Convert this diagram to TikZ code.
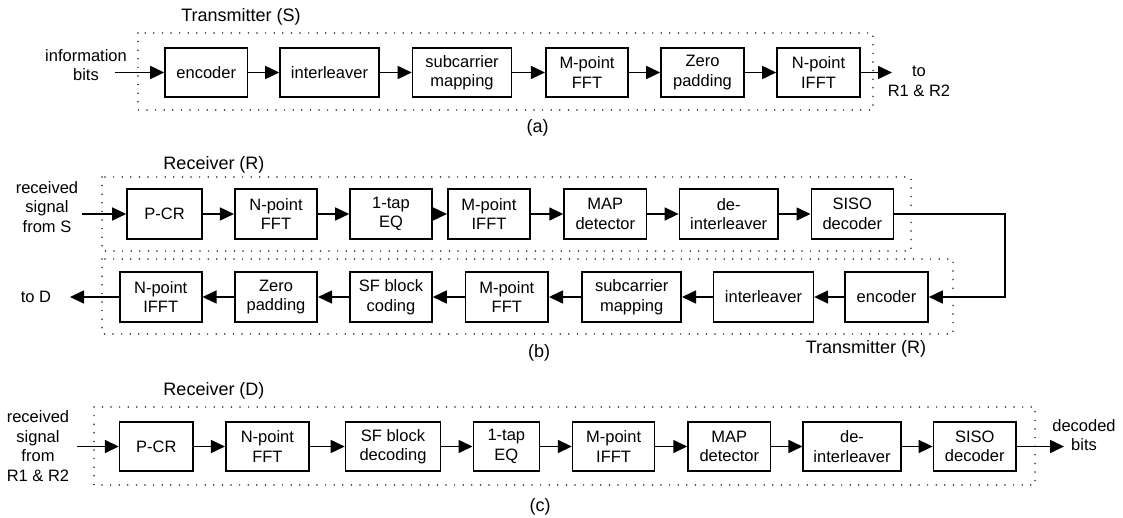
\documentclass[tikz,border=0pt]{standalone}
\usepackage{fontspec}
\setmainfont{Liberation Sans}
\usetikzlibrary{arrows.meta}

\tikzset{
  blk/.style={draw, line width=1.6pt, minimum height=49pt, inner sep=0pt,
    align=center, font=\fontsize{16.5}{19.5}\selectfont},
  txt/.style={inner sep=0pt, align=center, font=\fontsize{16.5}{19.5}\selectfont},
  ttl/.style={inner sep=0pt, font=\fontsize{18}{21}\selectfont},
  frame/.style={line width=1.7pt, dash pattern=on 0pt off 8.6pt, line cap=round, black!85},
  arr/.style={line width=1.6pt, -{Triangle[length=14pt,width=13pt]}},
  ln/.style={line width=1.6pt}
}

\begin{document}
\begin{tikzpicture}[x=1pt, y=-1pt]
\useasboundingbox (0,0) rectangle (1123,518);

% ---------- (a) transmitter at S ----------
\draw[frame] (138,33) rectangle (873,110);
\node[ttl] (tS) at (241,17) {Transmitter (S)};
\node[txt] (infob) at (86,65) {information\\bits};
\coordinate (inA) at (115,72.5);
\node[blk, minimum width=82.5pt] (encS)   at (206.25,72.5) {encoder};
\node[blk, minimum width=99pt]   (intS)   at (329.5,72.5)  {interleaver};
\node[blk, minimum width=99pt]   (scmS)   at (462,72.5)    {subcarrier\\mapping};
\node[blk, minimum width=82.5pt] (mfftS)  at (587,72.5)    {M-point\\FFT};
\node[blk, minimum width=83pt]   (zpS)    at (702.5,72.5)  {Zero\\padding};
\node[blk, minimum width=83pt]   (nifftS) at (818.5,72.5)  {N-point\\IFFT};
\coordinate (outA) at (892,72.5);
\node[txt] (toR) at (919,81.5) {to\\R1 \& R2};
\node[ttl] (capA) at (537.5,128) {(a)};
\draw[arr] (inA) -- (encS);
\draw[arr] (encS) -- (intS);
\draw[arr] (intS) -- (scmS);
\draw[arr] (scmS) -- (mfftS);
\draw[arr] (mfftS) -- (zpS);
\draw[arr] (zpS) -- (nifftS);
\draw[arr] (nifftS) -- (outA);

% ---------- (b) relay: receiver part ----------
\draw[frame] (102,177) rectangle (911,251);
\node[ttl] (rR) at (214,165) {Receiver (R)};
\node[txt] (rxS) at (47,207) {received\\signal\\from S};
\coordinate (inB) at (81.5,214);
\node[blk, minimum width=75pt, minimum height=50pt]   (pcrR)   at (164.5,214) {P-CR};
\node[blk, minimum width=82.5pt, minimum height=50pt] (nfftR)  at (276,214)   {N-point\\FFT};
\node[blk, minimum width=82pt, minimum height=50pt]   (eqR)    at (391,214)   {1-tap\\EQ};
\node[blk, minimum width=82.5pt, minimum height=50pt] (mifftR) at (489,214)   {M-point\\IFFT};
\node[blk, minimum width=82.5pt, minimum height=50pt] (mapR)   at (605.3,214) {MAP\\detector};
\node[blk, minimum width=98.6pt, minimum height=50pt] (deintR) at (728.7,214) {de-\\interleaver};
\node[blk, minimum width=82pt, minimum height=50pt]   (sisoR)  at (852.3,214) {SISO\\decoder};
\draw[arr] (inB) -- (pcrR);
\draw[arr] (pcrR) -- (nfftR);
\draw[arr] (nfftR) -- (eqR);
\draw[arr] (eqR) -- (mifftR);
\draw[arr] (mifftR) -- (mapR);
\draw[arr] (mapR) -- (deintR);
\draw[arr] (deintR) -- (sisoR);

% ---------- (b) relay: transmitter part ----------
\draw[frame] (102,259) rectangle (953,334);
\node[blk, minimum width=82pt, minimum height=50pt]   (nifftT) at (160.7,297) {N-point\\IFFT};
\node[blk, minimum width=82.5pt, minimum height=50pt] (zpT)    at (276,297)   {Zero\\padding};
\node[blk, minimum width=82pt, minimum height=50pt]   (sfT)    at (391,297)   {SF block\\coding};
\node[blk, minimum width=82.8pt, minimum height=50pt] (mfftT)  at (506.8,297) {M-point\\FFT};
\node[blk, minimum width=99pt, minimum height=50pt]   (scmT)   at (631.7,297) {subcarrier\\mapping};
\node[blk, minimum width=99.7pt, minimum height=50pt] (intT)   at (763.5,297) {interleaver};
\node[blk, minimum width=83pt, minimum height=50pt]   (encT)   at (886.5,297) {encoder};
\coordinate (loopTop) at (1005,214);
\coordinate (loopBot) at (1005,297);
\draw[ln, arr] (sisoR.east) -- (loopTop) -- (loopBot) -- (encT.east);
\draw[arr] (encT) -- (intT);
\draw[arr] (intT) -- (scmT);
\draw[arr] (scmT) -- (mfftT);
\draw[arr] (mfftT) -- (sfT);
\draw[arr] (sfT) -- (zpT);
\draw[arr] (zpT) -- (nifftT);
\coordinate (outB) at (70,297);
\draw[arr] (nifftT) -- (outB);
\node[txt] (toD) at (36,297) {to D};
\node[ttl] (tR) at (866,349) {Transmitter (R)};
\node[ttl] (capB) at (539,353) {(b)};

% ---------- (c) receiver at D ----------
\draw[frame] (94,407) rectangle (1035,485);
\node[ttl] (rD) at (214,391) {Receiver (D)};
\node[txt] (rxR) at (38,446) {received\\signal\\from\\R1 \& R2};
\coordinate (inC) at (77,446.5);
\node[blk, minimum width=73.4pt] (pcrD)   at (156.3,446.5) {P-CR};
\node[blk, minimum width=83.3pt] (nfftD)  at (267.4,446.5) {N-point\\FFT};
\node[blk, minimum width=95pt]   (sfD)    at (393,446.5)   {SF block\\decoding};
\node[blk, minimum width=66pt]   (eqD)    at (506.3,446.5) {1-tap\\EQ};
\node[blk, minimum width=82pt]   (mifftD) at (613.6,446.5) {M-point\\IFFT};
\node[blk, minimum width=82.5pt] (mapD)   at (729.3,446.5) {MAP\\detector};
\node[blk, minimum width=97.5pt] (deintD) at (852,446.5)   {de-\\interleaver};
\node[blk, minimum width=82.6pt] (sisoD)  at (974.7,446.5) {SISO\\decoder};
\coordinate (outC) at (1064,446.5);
\node[txt] (decb) at (1084,435) {decoded\\bits};
\node[ttl] (capC) at (540,507) {(c)};
\draw[arr] (inC) -- (pcrD);
\draw[arr] (pcrD) -- (nfftD);
\draw[arr] (nfftD) -- (sfD);
\draw[arr] (sfD) -- (eqD);
\draw[arr] (eqD) -- (mifftD);
\draw[arr] (mifftD) -- (mapD);
\draw[arr] (mapD) -- (deintD);
\draw[arr] (deintD) -- (sisoD);
\draw[arr] (sisoD) -- (outC);
\end{tikzpicture}
\end{document}
